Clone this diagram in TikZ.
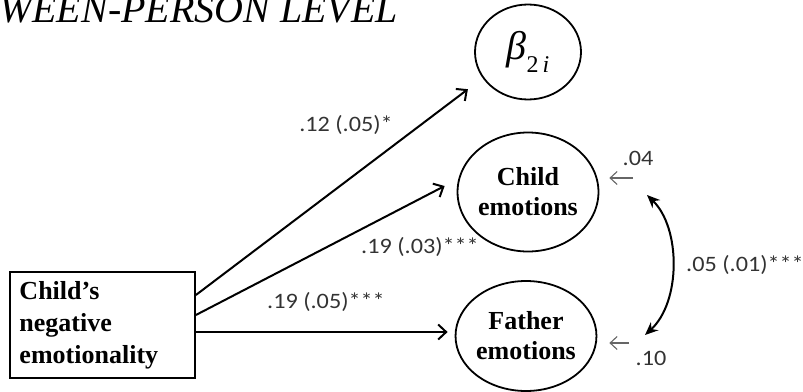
\documentclass[tikz,border=0pt]{standalone}
\usepackage{fontspec}
\setmainfont{Liberation Serif}
\newfontfamily\lblfont{Carlito}[FakeStretch=1.1]
\usetikzlibrary{arrows.meta,shapes.geometric}
\definecolor{lblgray}{HTML}{333333}
\definecolor{resgray}{HTML}{666666}
\tikzset{
  latent/.style={draw, ellipse, line width=1.8pt, inner sep=0pt, align=center,
    font=\fontsize{26}{30}\selectfont\bfseries},
  obsbox/.style={draw, rectangle, line width=1.8pt, inner xsep=9pt, align=left,
    font=\fontsize{26}{32}\selectfont\bfseries},
  path/.style={line width=2pt, -{Straight Barb[length=8pt,width=15pt,line width=2pt]}},
  resid/.style={line width=1.1pt, draw=resgray, -{Straight Barb[length=7pt,width=13pt,line width=1.1pt]}},
  covar/.style={line width=2pt, {Stealth[length=13pt,width=11pt]}-{Stealth[length=13pt,width=11pt]}},
  lbl/.style={text=lblgray, font=\lblfont\fontsize{22}{22}\selectfont, inner sep=0pt}
}
\begin{document}
\begin{tikzpicture}[x=1pt,y=-1pt]
\useasboundingbox (0,0) rectangle (803,391);
% title
\node[anchor=base west, inner sep=0pt, font=\fontsize{40}{40}\selectfont\itshape] (title) at (-1,22) {WEEN-PERSON LEVEL};
% nodes
\node[latent, minimum width=106pt, minimum height=95pt] (beta) at (528,52)
  {\fontsize{40}{40}\selectfont\itshape\mdseries β\raisebox{-13pt}{\fontsize{24}{24}\selectfont\upshape 2\,\itshape i}};
\node[latent, minimum width=133pt, minimum height=119pt] (child) at (528,192) {Child\\emotions};
\node[latent, minimum width=128pt, minimum height=110pt] (father) at (526,336) {Father\\emotions};
\node[obsbox, minimum width=185pt, minimum height=106pt, text width=166pt] (cne) at (102.5,325)
  {Child’s\\negative\\emotionality};
% paths
\draw[path] ([yshift=30pt]cne.east) -- ([xshift=-22pt,yshift=-3pt]beta.south west);
\draw[path] ([yshift=10pt]cne.east) -- ([xshift=-12pt,yshift=6pt]child.west);
\draw[path, shorten >=7pt] ([yshift=-7pt]cne.east) -- ([yshift=-7pt]cne.east -| father.west);
% labels
\node[lbl] (l1) at (346,125) {.12 (.05)*};
\node[lbl] (l2) at (420,247) {.19 (.03)***};
\node[lbl] (l3) at (326,302) {.19 (.05)***};
\node[lbl] (l4) at (745,265) {.05 (.01)***};
\node[lbl] (r1lbl) at (638,158) {.04};
\node[lbl] (r2lbl) at (651,358) {.10};
% residuals
\coordinate (r1) at (633,178);
\coordinate (r2) at (629,343);
\draw[resid] (r1) -- ([xshift=10pt,yshift=14pt]child.east);
\draw[resid] (r2) -- ([xshift=12pt,yshift=-7pt]father.east);
% covariance
\coordinate (cA) at (647,195);
\coordinate (cB) at (645,335);
\draw[covar] (cA) .. controls (681,228) and (681,302) .. (cB);
\end{tikzpicture}
\end{document}
